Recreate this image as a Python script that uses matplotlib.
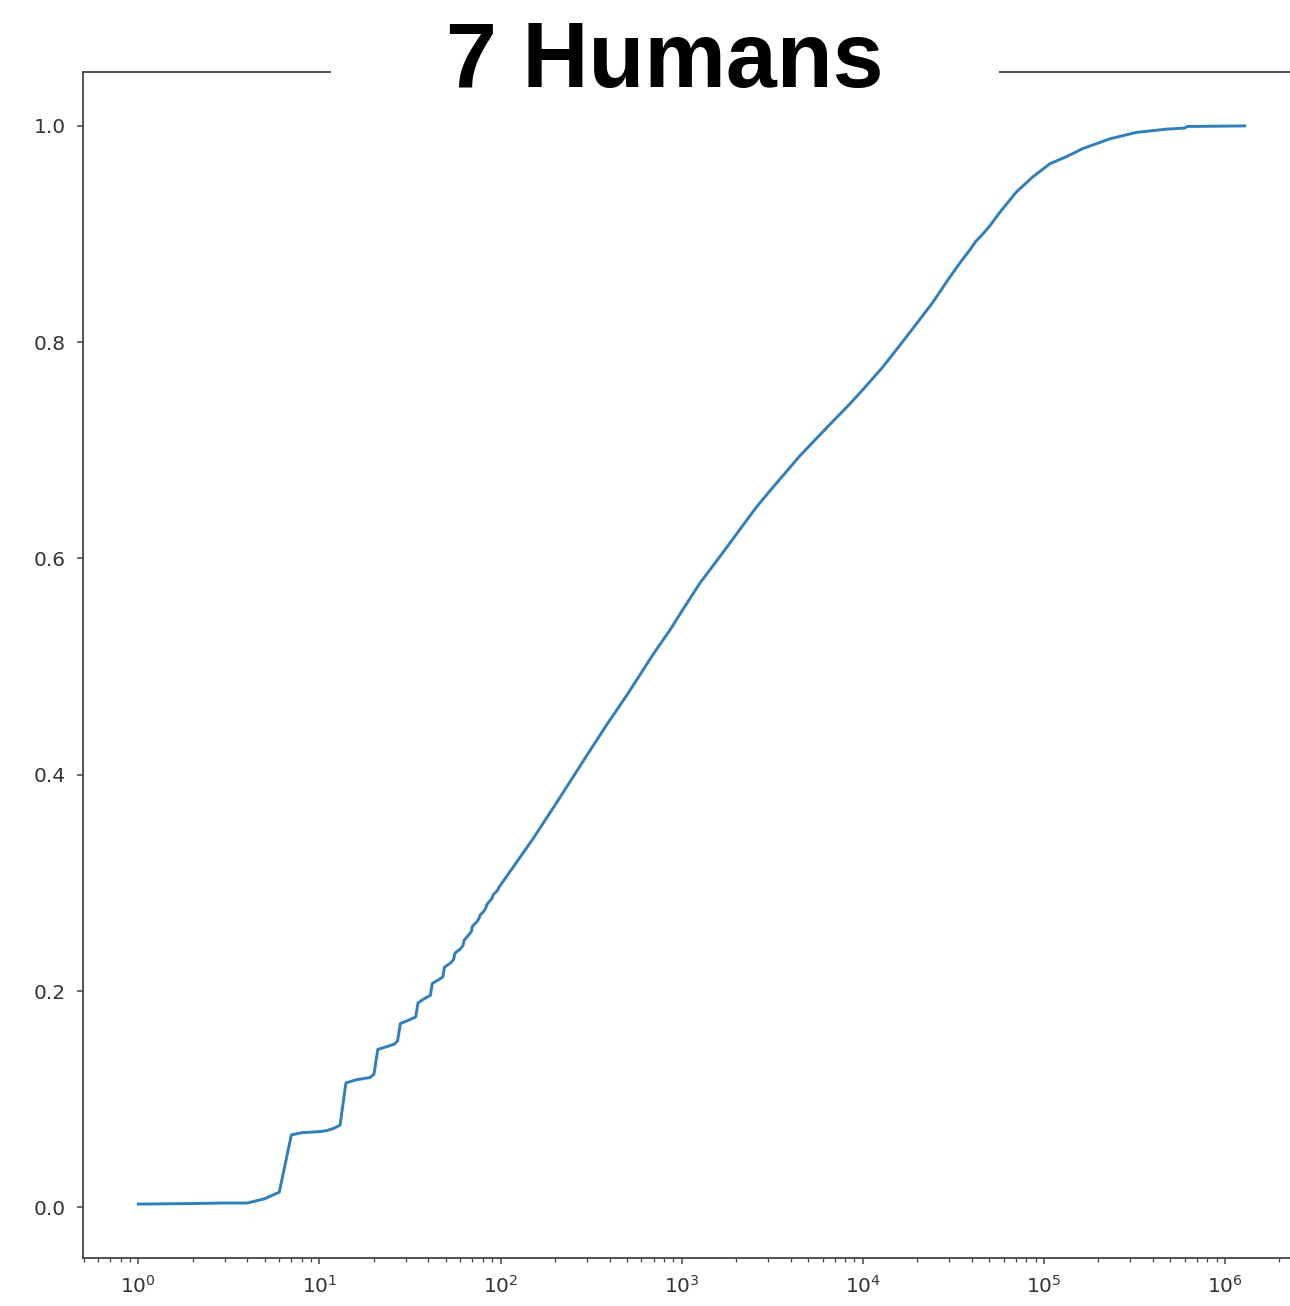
import matplotlib
matplotlib.use("Agg")
import matplotlib.pyplot as plt
from matplotlib.patches import Rectangle

# cumulative share of groups by size (log scale)
# small sizes come in bumps at every multiple of 7
sizes_small = [1, 2, 3, 4, 5, 6, 7, 8, 10, 11, 12, 13,
               14, 16, 19, 20, 21, 24, 26, 27, 28, 31, 34,
               35, 38, 41, 42, 45, 48, 49, 53, 55, 56, 60, 62,
               63, 66, 69, 70, 74, 76, 77, 81, 83, 84, 88, 90,
               91, 95, 97, 98]
share_small = [0.003, 0.0035, 0.004, 0.004, 0.008, 0.014, 0.067, 0.069, 0.070, 0.071, 0.073, 0.076,
               0.115, 0.118, 0.120, 0.123, 0.146, 0.149, 0.151, 0.154, 0.170, 0.173, 0.176,
               0.189, 0.193, 0.196, 0.207, 0.210, 0.213, 0.222, 0.226, 0.229, 0.235, 0.239, 0.242,
               0.247, 0.251, 0.255, 0.260, 0.264, 0.267, 0.270, 0.274, 0.277, 0.280, 0.284, 0.286,
               0.289, 0.292, 0.294, 0.296]

sizes_large = [100, 150, 200, 300, 385, 500, 700, 863, 1000, 1259, 1734,
               2100, 2600, 3200, 4500, 6500, 8500, 10000, 12900, 16000,
               20000, 24400, 30200, 35000, 38900, 42000, 46000, 50000, 57100,
               70600, 87100, 108000, 135000, 164000, 231000, 324000, 475000,
               600000, 620000, 1285000]
share_large = [0.298, 0.340, 0.372, 0.418, 0.446, 0.474, 0.512, 0.534, 0.551, 0.577, 0.608,
               0.627, 0.648, 0.666, 0.695, 0.723, 0.743, 0.756, 0.777, 0.797,
               0.818, 0.837, 0.860, 0.875, 0.885, 0.893, 0.900, 0.907, 0.920,
               0.939, 0.953, 0.965, 0.972, 0.979, 0.988, 0.994, 0.997,
               0.998, 0.9995, 1.000]

title = "7 Humans"

sizes = sizes_small + sizes_large
share = share_small + share_large

W, H = 1290, 1306
fig = plt.figure(figsize=(W / 100, H / 100), dpi=100)

# axes run a little past the right edge of the figure
left, right, top, bottom = 83, 1300, 72, 1258
ax = fig.add_axes([left / W, 1 - bottom / H, (right - left) / W, (bottom - top) / H])

ax.plot(sizes, share, color="#2f7fbd", linewidth=2.1)
ax.set_xscale("log")
ax.set_yticks([0.0, 0.2, 0.4, 0.6, 0.8, 1.0])

for side in ax.spines.values():
    side.set_color("#444444")
    side.set_linewidth(1.3)

ax.tick_params(axis="both", which="major", length=4.5, width=1.1,
               color="#444444", labelcolor="#333333", labelsize=14.5, pad=8)
ax.tick_params(axis="both", which="minor", length=2.6, width=0.9, color="#444444")

# white panel behind the heading hides that stretch of the top spine
fig.add_artist(Rectangle((331 / W, 1 - 80 / H), (999 - 331) / W, 80 / H,
                         transform=fig.transFigure, facecolor="white",
                         edgecolor="none", zorder=5))
fig.text(665 / W, 1 - 63 / H, title, ha="center", va="center",
         fontsize=66, fontweight="bold", family="Liberation Sans", zorder=6)

fig.savefig("out.png", dpi=100, facecolor="white")
